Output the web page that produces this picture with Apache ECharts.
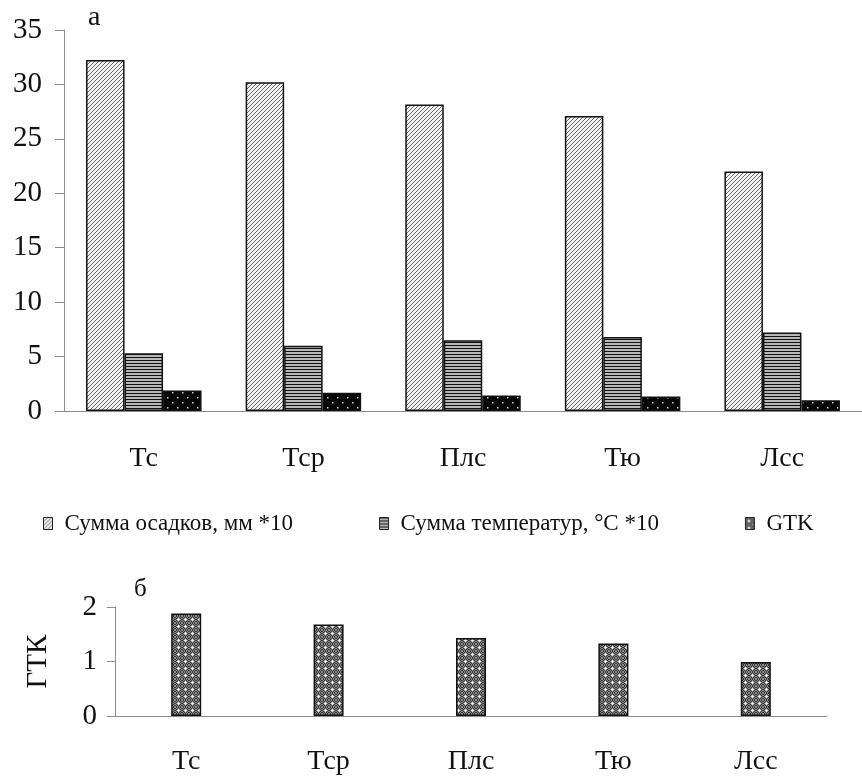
<!DOCTYPE html>
<html>
<head>
<meta charset="utf-8">
<script src="https://cdn.jsdelivr.net/npm/echarts@6/dist/echarts.min.js"></script>
<style>
  html, body { margin: 0; padding: 0; background: #fff; }
  #chart { width: 862px; height: 776px; }
</style>
</head>
<body>
<div id="chart"></div>
<script>
// Sites
const categories = ['Тс', 'Тср', 'Плс', 'Тю', 'Лсс'];
// Sum of precipitation, mm (x10 scale)
const precipSum = [32.25, 30.2, 28.15, 27.1, 22.0];
// Sum of temperatures, °C (x10 scale)
const tempSum = [5.3, 6.0, 6.5, 6.8, 7.2];
// Hydrothermal coefficient
const gtk = [1.88, 1.68, 1.43, 1.33, 0.99];
// Series names
const seriesNames = ['Сумма осадков, мм *10', 'Сумма температур, °С *10', 'GTK'];
// Axis ticks
const topTicks = { min: 0, max: 35, step: 5 };
const bottomTicks = { min: 0, max: 2, step: 1 };

const FONT = '"Liberation Serif"';

function tile(w, h, draw) {
  const c = document.createElement('canvas');
  c.width = w; c.height = h;
  draw(c.getContext('2d'), w, h);
  return c;
}

// Diagonal hatch ////
const hatchTile = tile(4, 4, (g, w, h) => {
  g.fillStyle = '#f2f2f2'; g.fillRect(0, 0, w, h);
  g.strokeStyle = '#5a5a5a'; g.lineWidth = 0.9;
  g.beginPath();
  for (let o = -4; o <= 4; o += 4) { g.moveTo(o, h); g.lineTo(o + w, 0); }
  g.stroke();
});
// Horizontal lines
const stripeTile = tile(4, 3, (g, w, h) => {
  g.fillStyle = '#b8b8b8'; g.fillRect(0, 0, w, h);
  g.fillStyle = '#111'; g.fillRect(0, 0, w, 1);
});
// Black with white dots
const dotTile = tile(10, 10, (g, w, h) => {
  g.fillStyle = '#050505'; g.fillRect(0, 0, w, h);
  g.fillStyle = '#cfcfcf';
  g.fillRect(2, 2, 1.5, 1.5);
  g.fillRect(7, 7, 1.5, 1.5);
});
// Gray fine checker with white crosses
const grayDotTile = tile(7, 7, (g, w, h) => {
  for (let y = 0; y < h; y++) for (let x = 0; x < w; x++) {
    g.fillStyle = ((x + y) % 2) ? '#383838' : '#8a8a8a';
    g.fillRect(x, y, 1, 1);
  }
  g.fillStyle = '#e6e6e6';
  g.fillRect(3, 2, 1, 3);
  g.fillRect(2, 3, 3, 1);
});

const pat = (c) => ({ image: c, repeat: 'repeat' });

const axisGray = '#8c8c8c';
const border = { borderColor: '#111', borderWidth: 1.5 };
const legendFills = [hatchTile, stripeTile, grayDotTile];
const legendText = { fontFamily: FONT, fontSize: 23, color: '#111', padding: [0, 0, 0, 7] };

const chart = echarts.init(document.getElementById('chart'));
chart.setOption({
  animation: false,
  backgroundColor: '#fff',
  textStyle: { fontFamily: FONT },
  grid: [
    { left: 64, top: 30, width: 807, height: 381 },
    { left: 115, top: 607, width: 712, height: 109 }
  ],
  legend: {
    left: 43, top: 512, padding: 0,
    icon: 'rect',
    itemWidth: 9, itemHeight: 12, itemGap: 86,
    textStyle: legendText,
    data: seriesNames.map((name, i) => ({
      name: name, icon: 'rect', textStyle: legendText,
      itemStyle: { color: pat(legendFills[i]), borderColor: '#222', borderWidth: 1 }
    }))
  },
  xAxis: [
    {
      type: 'category', gridIndex: 0, data: categories,
      axisLine: { lineStyle: { color: axisGray, width: 1 } },
      axisTick: { length: 9, lineStyle: { color: axisGray } },
      axisLabel: { fontFamily: FONT, fontSize: 28, color: '#111', margin: 34 }
    },
    {
      type: 'category', gridIndex: 1, data: categories,
      axisLine: { lineStyle: { color: axisGray, width: 1 } },
      axisTick: { length: 9, lineStyle: { color: axisGray } },
      axisLabel: { fontFamily: FONT, fontSize: 28, color: '#111', margin: 32 }
    }
  ],
  yAxis: [
    {
      type: 'value', gridIndex: 0,
      min: topTicks.min, max: topTicks.max, interval: topTicks.step,
      axisLine: { show: true, lineStyle: { color: axisGray, width: 1 } },
      axisTick: { show: true, length: 9, lineStyle: { color: axisGray } },
      splitLine: { show: false },
      axisLabel: { fontFamily: FONT, fontSize: 29, color: '#111', margin: 22 }
    },
    {
      type: 'value', gridIndex: 1,
      min: bottomTicks.min, max: bottomTicks.max, interval: bottomTicks.step,
      name: 'ГТК', nameLocation: 'middle', nameRotate: 90, nameGap: 62,
      nameTextStyle: { fontFamily: FONT, fontSize: 29, color: '#111' },
      axisLine: { show: true, lineStyle: { color: axisGray, width: 1 } },
      axisTick: { show: true, length: 8, lineStyle: { color: axisGray } },
      splitLine: { show: false },
      axisLabel: { fontFamily: FONT, fontSize: 29, color: '#111', margin: 18 }
    }
  ],
  series: [
    {
      name: seriesNames[0], type: 'bar', xAxisIndex: 0, yAxisIndex: 0,
      data: precipSum, barWidth: 38.5, barGap: '0%',
      itemStyle: Object.assign({ color: pat(hatchTile) }, border)
    },
    {
      name: seriesNames[1], type: 'bar', xAxisIndex: 0, yAxisIndex: 0,
      data: tempSum, barWidth: 38.5, barGap: '0%',
      itemStyle: Object.assign({ color: pat(stripeTile) }, border)
    },
    {
      name: seriesNames[2], type: 'bar', xAxisIndex: 0, yAxisIndex: 0,
      data: gtk, barWidth: 38.5, barGap: '0%',
      itemStyle: Object.assign({ color: pat(dotTile) }, border)
    },
    {
      name: 'ГТК', type: 'bar', xAxisIndex: 1, yAxisIndex: 1,
      data: gtk, barWidth: 30,
      itemStyle: Object.assign({ color: pat(grayDotTile) }, border)
    }
  ],
  graphic: [
    { type: 'text', left: 88, top: 4, style: { text: 'а', font: '28px ' + FONT, fill: '#111' } },
    { type: 'text', left: 134, top: 577, style: { text: 'б', font: '25px ' + FONT, fill: '#111' } }
  ]
});
</script>
</body>
</html>
